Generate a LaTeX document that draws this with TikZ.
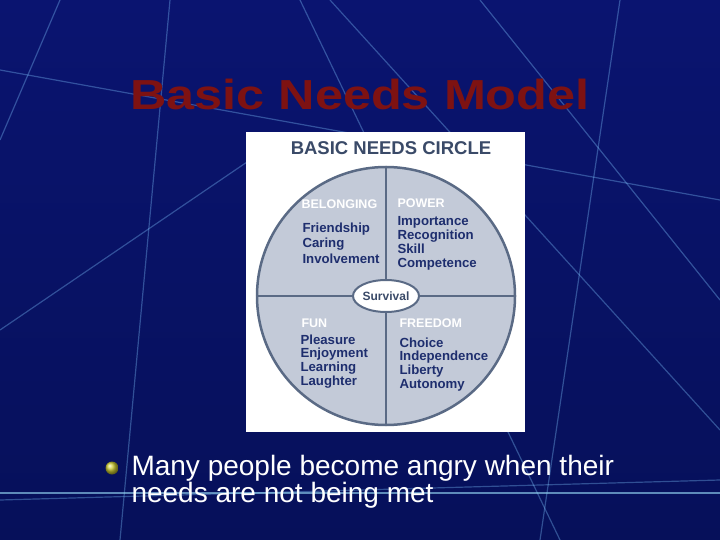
\documentclass[tikz,border=0pt]{standalone}
\usepackage{fontspec}
\setmainfont{Liberation Sans}
\usetikzlibrary{shapes.geometric}
\definecolor{bgA}{HTML}{0A1470}
\definecolor{bgB}{HTML}{06105A}
\definecolor{ttl}{HTML}{7E1212}
\definecolor{pie}{HTML}{C3CAD8}
\definecolor{edge}{HTML}{5A6A85}
\definecolor{hd}{HTML}{3A4A68}
\definecolor{wd}{HTML}{1E2E6E}
\tikzset{bgline/.style={draw=blue!45!cyan!50!white,opacity=0.35,line width=1.2pt},
 head/.style={font=\bfseries\fontsize{12.5}{13}\selectfont,text=white,anchor=west},
 words/.style={font=\bfseries\fontsize{13.2}{13.8}\selectfont,text=wd,anchor=north west,align=left},
 body/.style={font=\fontsize{28}{27}\selectfont,text=white,anchor=west}}
\begin{document}
\begin{tikzpicture}[x=1pt,y=-1pt]
\useasboundingbox (0,0) rectangle (720,540);
\shade[top color=bgA,bottom color=bgB] (0,0) rectangle (720,540);
\draw[bgline] (0,70) -- (720,200);
\draw[bgline] (60,0) -- (0,140);
\draw[bgline] (170,0) -- (120,540);
\draw[bgline] (300,0) -- (560,540);
\draw[bgline] (330,0) -- (720,430);
\draw[bgline] (480,0) -- (720,300);
\draw[bgline] (620,0) -- (540,540);
\draw[bgline] (0,330) -- (250,160);
\draw[bgline] (0,500) -- (720,480);
\draw[draw=cyan!40!white,opacity=0.6,line width=1.5pt] (0,493) -- (720,493);
\node[font=\bfseries\fontsize{42}{44}\selectfont,text=ttl,xscale=1.2] (title) at (360,94) {Basic Needs Model};
\node[fill=white,minimum width=279pt,minimum height=300pt,inner sep=0pt] (img) at (385.5,282) {};
\node[font=\bfseries\fontsize{18.5}{19}\selectfont,text=hd] (cap) at (391,148) {BASIC NEEDS CIRCLE};
\node[circle,fill=pie,draw=edge,line width=2.5pt,minimum size=258pt,inner sep=0pt] (c) at (386,296) {};
\draw[edge,line width=2.5pt] (c.north) -- (c.south);
\draw[edge,line width=2.5pt] (c.west) -- (c.east);
\node[ellipse,fill=white,draw=edge,line width=2pt,minimum width=56pt,minimum height=32pt,inner sep=0pt,font=\bfseries\fontsize{12}{12}\selectfont,text=hd] (s) at (386,296) {Survival};
\node[head] (h1) at (298,204) {BELONGING};
\node[head] (h2) at (394,203) {POWER};
\node[head] (h3) at (298,323) {FUN};
\node[head] (h4) at (396,323) {FREEDOM};
\node[words] (w1) at (299,219) {Friendship\\[2pt]Caring\\[2pt]Involvement};
\node[words] (w2) at (394,213) {Importance\\Recognition\\Skill\\Competence};
\node[words] (w3) at (297,331) {Pleasure\\Enjoyment\\Learning\\Laughter};
\node[words] (w4) at (396,334) {Choice\\Independence\\Liberty\\Autonomy};
\shade[ball color=yellow!60!gray] (112,468) circle (6.5pt);
\node[body,align=left,anchor=north west] (t) at (128,452) {Many people become angry when their\\needs are not being met};
\end{tikzpicture}
\end{document}
